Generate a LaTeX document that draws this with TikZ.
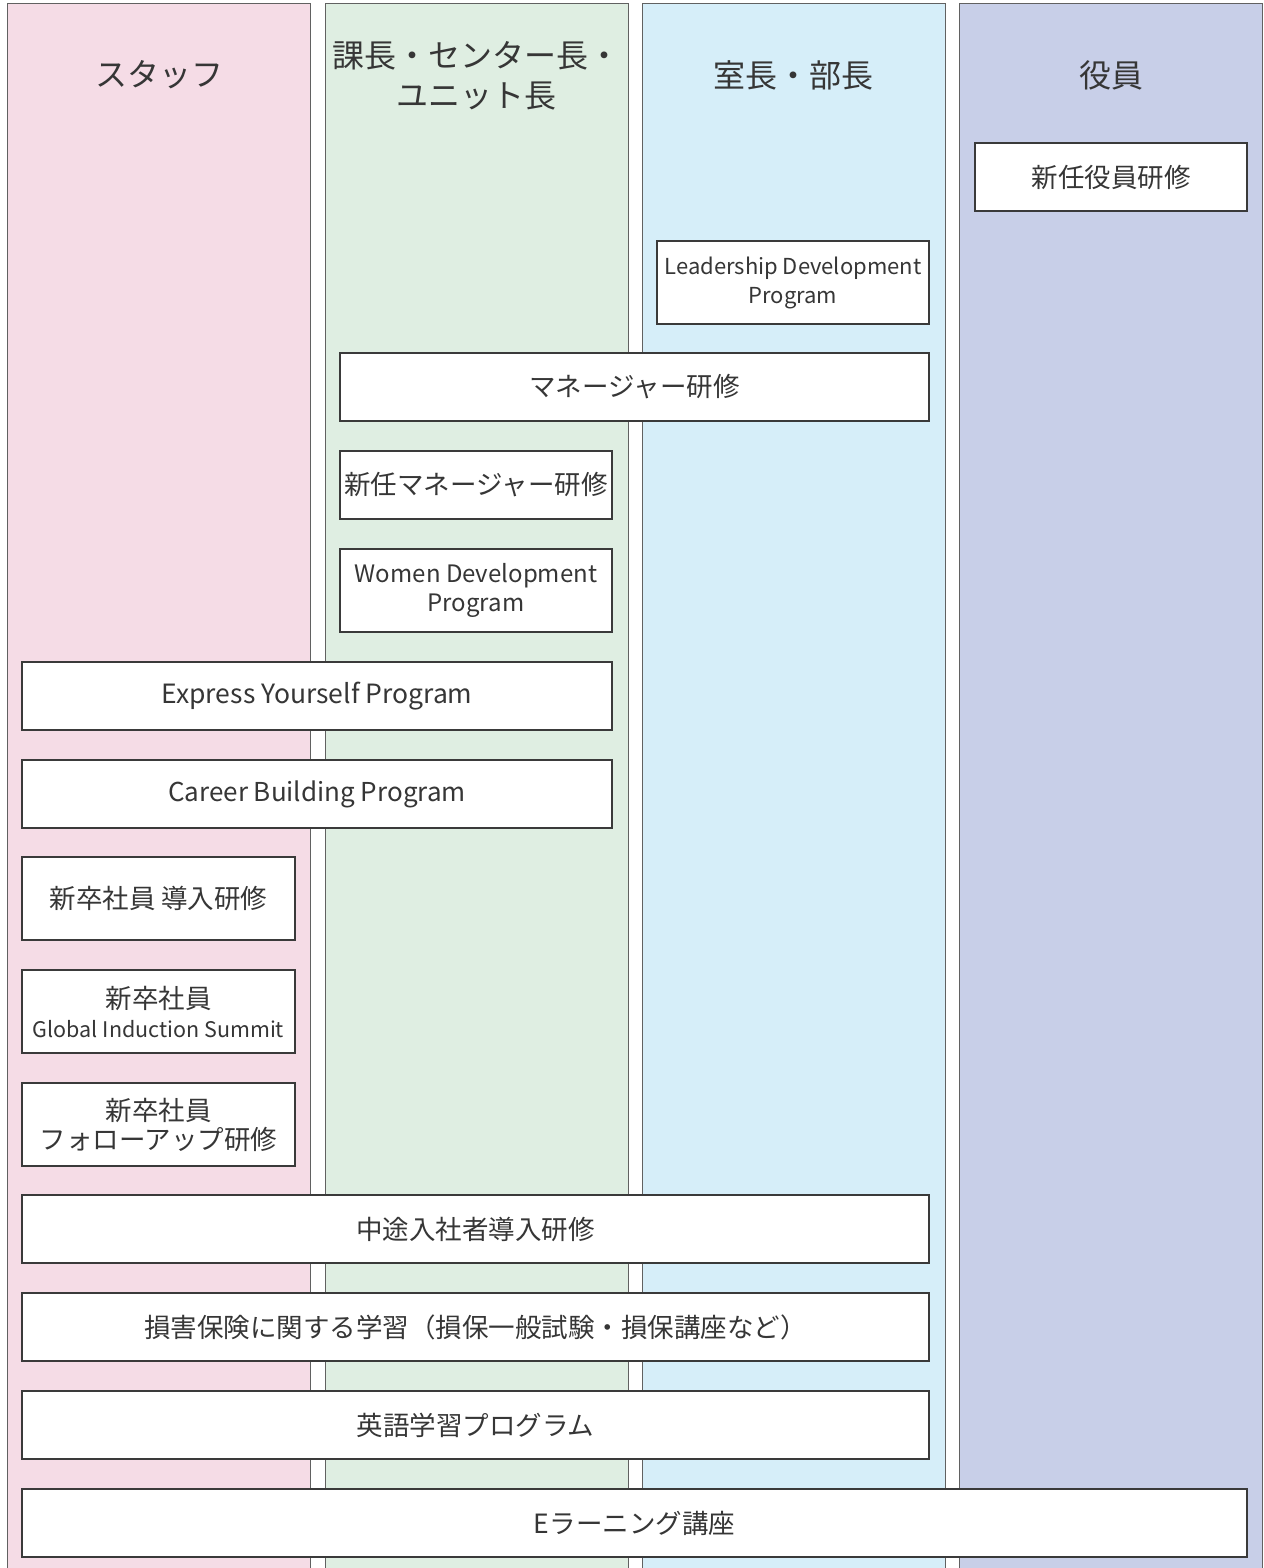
\documentclass[tikz,border=0pt]{standalone}
\usepackage{fontspec}
\setmainfont{Noto Sans CJK JP}
\definecolor{pinkc}{HTML}{F5DCE6}
\definecolor{greenc}{HTML}{DFEEE2}
\definecolor{bluec}{HTML}{D6EEF9}
\definecolor{lavc}{HTML}{C8CFE8}
\definecolor{txt}{HTML}{363636}
\definecolor{edge}{HTML}{3A3A3A}
\begin{document}
\begin{tikzpicture}[x=1pt,y=-1pt,
  col/.style={draw=edge!80,line width=1.4pt,anchor=north west,minimum width=303pt,minimum height=1620pt,inner sep=0pt},
  head/.style={text=txt,font=\fontsize{32}{40}\selectfont,align=center},
  box/.style={draw=edge,line width=1.4pt,fill=white,text=txt,align=center,inner sep=0pt,font=\fontsize{26.5}{29}\selectfont},
  lo/.style={minimum height=68pt},
  hi/.style={minimum height=83pt}]
\useasboundingbox (0,0) rectangle (1263,1568);
\fill[white] (0,0) rectangle (1263,1568);
\node[col,fill=pinkc] (c1) at (7,3) {};
\node[col,fill=greenc] (c2) at (325,3) {};
\node[col,fill=bluec] (c3) at (642,3) {};
\node[col,fill=lavc] (c4) at (959,3) {};
\node[head] (h1) at (159,75) {スタッフ};
\node[head] (h2) at (476,76) {課長・センター長・\\ユニット長};
\node[head] (h3) at (793,75) {室長・部長};
\node[head] (h4) at (1111,75) {役員};
\node[box,lo,minimum width=272pt] (yak) at (1111,177) {新任役員研修};
\node[box,hi,minimum width=272pt,font=\fontsize{22}{29}\selectfont] (ldp) at (793,282.5) {Leadership Development\\Program};
\node[box,lo,minimum width=589pt] (mgr) at (634.5,387) {マネージャー研修};
\node[box,lo,minimum width=272pt] (nmgr) at (476,485) {新任マネージャー研修};
\node[box,hi,minimum width=272pt,font=\fontsize{24}{29}\selectfont] (wdp) at (476,590.5) {Women Development\\Program};
\node[box,lo,minimum width=590pt,font=\fontsize{26.5}{29}\selectfont] (eyp) at (317,696) {Express Yourself Program};
\node[box,lo,minimum width=590pt,font=\fontsize{26}{29}\selectfont] (cbp) at (317,794) {Career Building Program};
\node[box,hi,minimum width=273pt] (intro) at (158.5,898.5) {新卒社員 導入研修};
\node[box,hi,minimum width=273pt] (gis) at (158.5,1011.5) {新卒社員\\{\fontsize{21.5}{29}\selectfont Global Induction Summit}};
\node[box,hi,minimum width=273pt] (fol) at (158.5,1124.5) {新卒社員\\フォローアップ研修};
\node[box,lo,minimum width=907pt] (chuto) at (475.5,1229) {中途入社者導入研修};
\node[box,lo,minimum width=907pt] (son) at (475.5,1327) {損害保険に関する学習（損保一般試験・損保講座など）};
\node[box,lo,minimum width=907pt] (eigo) at (475.5,1425) {英語学習プログラム};
\node[box,lo,minimum width=1225pt] (elr) at (634.5,1523) {Eラーニング講座};
\end{tikzpicture}
\end{document}
